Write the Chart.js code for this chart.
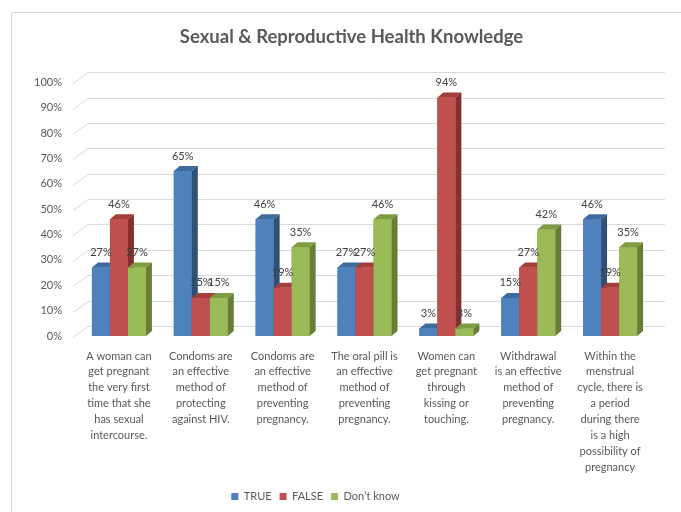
<!DOCTYPE html>
<html>
<head>
<meta charset="utf-8">
<script src="https://cdn.jsdelivr.net/npm/chart.js@4.4.1/dist/chart.umd.min.js"></script>
<style>
  body { margin: 0; background: #fff; }
  #box { width: 681px; height: 512px; }
</style>
</head>
<body>
<div id="box"><canvas id="graficoSaude"></canvas></div>
<script>
// categories (one array of lines per statement)
const categorias = [
    ['A woman can', 'get pregnant', 'the very first', 'time that she', 'has sexual', 'intercourse.'],
    ['Condoms are', 'an effective', 'method of', 'protecting', 'against HIV.'],
    ['Condoms are', 'an effective', 'method of', 'preventing', 'pregnancy.'],
    ['The oral pill is', 'an effective', 'method of', 'preventing', 'pregnancy.'],
    ['Women can', 'get pregnant', 'through', 'kissing or', 'touching.'],
    ['Withdrawal', 'is an effective', 'method of', 'preventing', 'pregnancy.'],
    ['Within the', 'menstrual', 'cycle, there is', 'a period', 'during there', 'is a high', 'possibility of', 'pregnancy']
];
const valoresTrue = [27, 65, 46, 27, 3, 15, 46];
const valoresFalse = [46, 15, 19, 27, 94, 27, 19];
const valoresNaoSabe = [27, 15, 35, 46, 3, 42, 35];
const ticksY = [0, 10, 20, 30, 40, 50, 60, 70, 80, 90, 100];

const fonte = 'Lato, "Open Sans", sans-serif';
const profX = 6, profY = 5;   // depth of the 3D bars

// front / top / side shades
const cores = [
    ['#4F81BD', '#3E6A9E', '#2F5078'],
    ['#C0504D', '#A33E3B', '#85302E'],
    ['#9BBB59', '#7F9C44', '#677F35']
];

// white background + light frame like the Excel chart area
const fundo = {
    id: 'fundo',
    beforeDraw(chart) {
        const ctx = chart.ctx;
        ctx.save();
        ctx.fillStyle = '#fff';
        ctx.fillRect(0, 0, chart.width, chart.height);
        ctx.strokeStyle = '#d9d9d9';
        ctx.lineWidth = 1;
        ctx.strokeRect(11.5, 12.5, chart.width + 20, chart.height + 20);
        ctx.restore();
    },
    afterLayout(chart) {
        // Excel centres the title on the framed area, the legend a bit left
        chart.titleBlock.left += 26;
        chart.titleBlock.right += 26;
        chart.legend.left -= 10;
        chart.legend.right -= 10;
    }
};

// back-wall gridlines with the slanted part at the left
const grade3d = {
    id: 'grade3d',
    beforeDatasetsDraw(chart) {
        const ctx = chart.ctx;
        const y = chart.scales.y;
        const a = chart.chartArea;
        ctx.save();
        ctx.strokeStyle = '#d9d9d9';
        ctx.lineWidth = 1;
        ticksY.forEach(function(v) {
            const py = Math.round(y.getPixelForValue(v)) + 0.5;
            ctx.beginPath();
            ctx.moveTo(a.left - 5, py + 1);
            ctx.lineTo(a.left + 10, py - 10);
            ctx.lineTo(a.right + 14, py - 10);
            ctx.stroke();
        });
        ctx.restore();
    }
};

// redraw the bars with top and side faces, then the value labels
const barras3d = {
    id: 'barras3d',
    afterDatasetsDraw(chart) {
        const ctx = chart.ctx;
        ctx.save();
        chart.data.datasets.forEach(function(ds, i) {
            const meta = chart.getDatasetMeta(i);
            meta.data.forEach(function(bar) {
                const esq = bar.x - bar.width / 2;
                const dir = bar.x + bar.width / 2;
                const topo = bar.y;
                const base = bar.base;
                ctx.fillStyle = cores[i][0];
                ctx.fillRect(esq, topo, bar.width, base - topo);
                // top face
                ctx.fillStyle = cores[i][1];
                ctx.beginPath();
                ctx.moveTo(esq, topo);
                ctx.lineTo(esq + profX, topo - profY);
                ctx.lineTo(dir + profX, topo - profY);
                ctx.lineTo(dir, topo);
                ctx.closePath();
                ctx.fill();
                // side face
                ctx.fillStyle = cores[i][2];
                ctx.beginPath();
                ctx.moveTo(dir, topo);
                ctx.lineTo(dir + profX, topo - profY);
                ctx.lineTo(dir + profX, base - profY);
                ctx.lineTo(dir, base);
                ctx.closePath();
                ctx.fill();
            });
        });
        ctx.fillStyle = '#404040';
        ctx.font = '11px ' + fonte;
        ctx.textAlign = 'center';
        ctx.textBaseline = 'middle';
        chart.data.datasets.forEach(function(ds, i) {
            chart.getDatasetMeta(i).data.forEach(function(bar, j) {
                ctx.fillText(ds.data[j] + '%', bar.x, bar.y - 15);
            });
        });
        ctx.restore();
    }
};

new Chart(document.getElementById('graficoSaude'), {
    type: 'bar',
    data: {
        labels: categorias,
        datasets: [
            { label: 'TRUE', data: valoresTrue, backgroundColor: cores[0][0] },
            { label: 'FALSE', data: valoresFalse, backgroundColor: cores[1][0] },
            { label: 'Don\u2019t know', data: valoresNaoSabe, backgroundColor: cores[2][0] }
        ]
    },
    options: {
        responsive: true,
        maintainAspectRatio: false,
        animation: false,
        barPercentage: 1,
        categoryPercentage: 0.66,
        layout: { padding: { left: 0, right: 30, top: 0, bottom: 0 } },
        plugins: {
            title: {
                display: true,
                text: 'Sexual & Reproductive Health Knowledge',
                color: '#595959',
                font: { family: fonte, size: 18.5, weight: 'bold' },
                padding: { top: 26, bottom: 34 }
            },
            legend: {
                position: 'bottom',
                labels: {
                    color: '#595959',
                    font: { family: fonte, size: 11 },
                    boxWidth: 7,
                    boxHeight: 7,
                    padding: 8
                }
            },
            tooltip: { enabled: false }
        },
        scales: {
            x: {
                grid: { display: false, drawTicks: false },
                border: { display: false },
                ticks: {
                    color: '#595959',
                    font: { family: fonte, size: 11, lineHeight: 1.45 },
                    autoSkip: false,
                    maxRotation: 0,
                    padding: 12
                },
                afterFit(scale) { scale.height = 147; }
            },
            y: {
                min: 0,
                max: 100,
                grid: { display: false, drawTicks: false },
                border: { display: false },
                ticks: {
                    stepSize: 10,
                    color: '#595959',
                    font: { family: fonte, size: 11 },
                    padding: 16,
                    callback: function(v) { return v + '%'; }
                },
                afterFit(scale) { scale.width = 78; }
            }
        }
    },
    plugins: [fundo, grade3d, barras3d]
});
</script>
</body>
</html>
